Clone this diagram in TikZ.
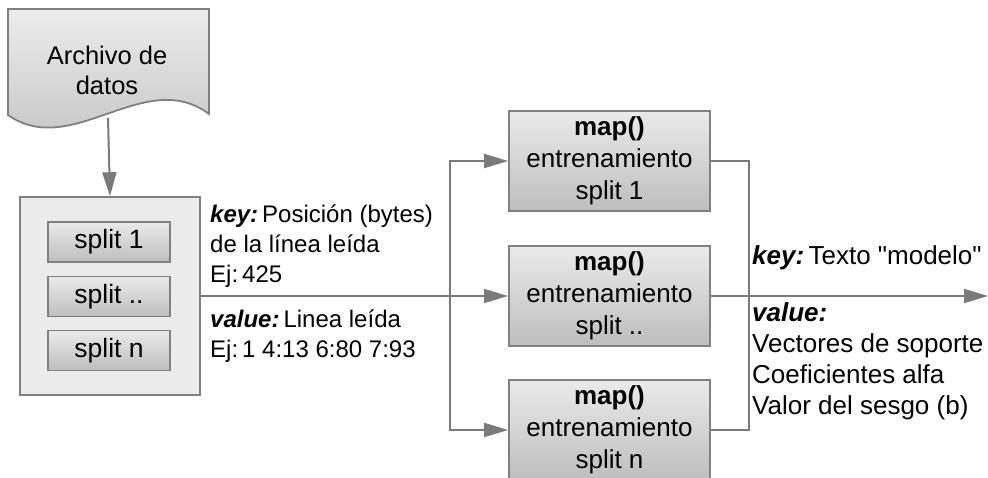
\documentclass[tikz,border=0pt]{standalone}
\usepackage{fontspec}
\setmainfont{Liberation Sans}
\usetikzlibrary{arrows.meta}

\definecolor{linegray}{HTML}{7A7A7A}
\definecolor{edgegray}{HTML}{808080}
\definecolor{panelfill}{HTML}{EBEBEB}
\definecolor{shadetop}{HTML}{EAEAEA}
\definecolor{shadebot}{HTML}{BEBEBE}

\newcommand{\kw}[1]{\textbf{\textit{#1}}}

\tikzset{
  conn/.style={draw=linegray, line width=2pt},
  arr/.style={conn, -{Triangle[length=24pt,width=14pt]}},
  shadedbox/.style={draw=edgegray, line width=1.8pt, top color=shadetop, bottom color=shadebot,
    inner sep=0pt, align=center},
  splitbox/.style={shadedbox, minimum width=122pt, minimum height=40pt,
    font=\fontsize{26.5}{30}\selectfont},
  mapbox/.style={shadedbox, minimum width=201pt, minimum height=100pt,
    font=\fontsize{26}{32}\selectfont},
  panel/.style={draw=edgegray, line width=1.5pt, fill=panelfill,
    minimum width=180pt, minimum height=198pt, inner sep=0pt},
  label/.style={anchor=base west, inner sep=0pt, font=\fontsize{24}{30}\selectfont},
  rlabel/.style={anchor=base west, inner sep=0pt, font=\fontsize{26}{31}\selectfont},
}

\begin{document}
\begin{tikzpicture}[x=1pt, y=-1pt]
  \useasboundingbox (0,0) rectangle (988,478);
  \clip (0,0) rectangle (988,478);

  % data file (document shape with wavy bottom)
  \path[draw=edgegray, line width=1.8pt, top color=shadetop!90!white, bottom color=shadebot!95!white]
    (8,9) -- (209,9) -- (209,114)
    .. controls (145,66) and (72,160) .. (8,115) -- cycle;
  \node[anchor=base, inner sep=0pt, font=\fontsize{25.5}{30}\selectfont] (doc) at (107,65)
    {\begin{tabular}[t]{@{}c@{}}Archivo de\\datos\end{tabular}};
  \coordinate (docout) at (108,118);

  % container holding the splits
  \node[panel] (cont) at (110,296) {};
  \node[splitbox] (s1) at (109,242) {split 1};
  \node[splitbox] (sm) at (109,296.5) {split ..};
  \node[splitbox] (sn) at (109,350.5) {split n};

  % map tasks
  \node[mapbox] (m1) at (609.5,161) {\begin{tabular}{@{}c@{}}\textbf{map()}\\entrenamiento\\split 1\end{tabular}};
  \node[mapbox] (mm) at (609.5,296) {\begin{tabular}{@{}c@{}}\textbf{map()}\\entrenamiento\\split ..\end{tabular}};
  \node[mapbox] (mn) at (609.5,430) {\begin{tabular}{@{}c@{}}\textbf{map()}\\entrenamiento\\split n\end{tabular}};

  % connectors
  \coordinate (busin) at (450,296);
  \coordinate (busout) at (749,296);
  \coordinate (result) at (988,296);

  \draw[arr] (docout) -- (cont.north);
  \draw[conn] (cont.east) -- (busin);
  \draw[arr] (busin) |- (m1.west);
  \draw[arr] (busin) -- (mm.west);
  \draw[arr] (busin) |- (mn.west);
  \draw[conn] (m1.east) -| (busout);
  \draw[conn] (mn.east) -| (busout);
  \draw[arr] (mm.east) -- (result);

  % input key/value labels
  \node[label] (inkey) at (210,223)
    {\begin{tabular}[t]{@{}l@{}}\kw{key:}\,Posición (bytes)\\de la línea leída\\Ej:\,425\end{tabular}};
  \node[label] (inval) at (210,327)
    {\begin{tabular}[t]{@{}l@{}}\kw{value:}\,Linea leída\\Ej:\,1 4:13 6:80 7:93\end{tabular}};

  % output key/value labels
  \node[rlabel] (outkey) at (752,265) {\kw{key:}\,Texto \textquotedbl modelo\textquotedbl};
  \node[rlabel] (outval) at (752,322)
    {\begin{tabular}[t]{@{}l@{}}\kw{value:}\\Vectores de soporte\\Coeficientes alfa\\Valor del sesgo (b)\end{tabular}};
\end{tikzpicture}
\end{document}
